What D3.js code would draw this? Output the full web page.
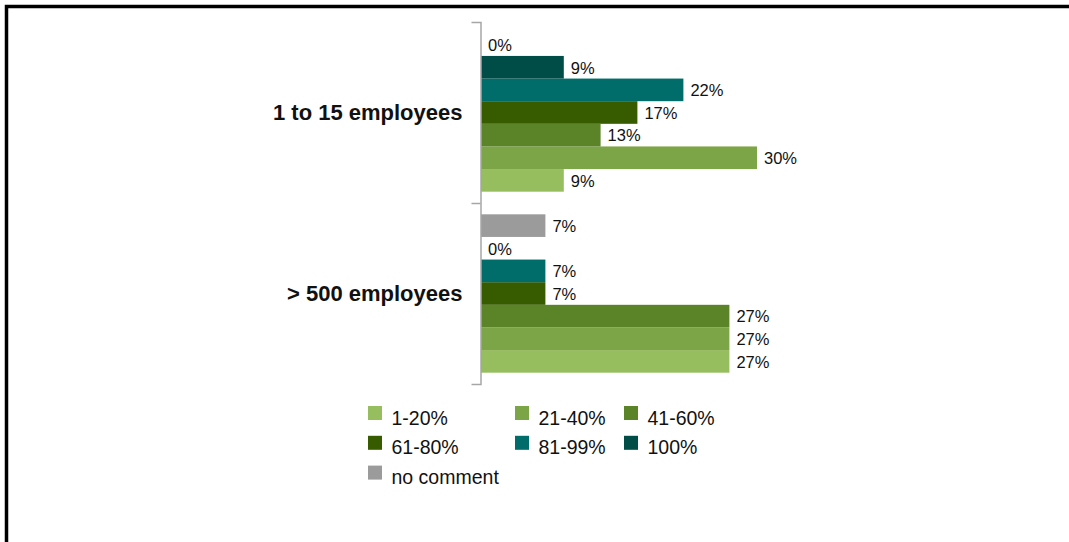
<!DOCTYPE html>
<html>
<head>
<meta charset="utf-8">
<script src="https://cdn.jsdelivr.net/npm/d3@7"></script>
<style>
  html, body { margin: 0; padding: 0; background: #fff; }
  svg { display: block; }
  text { font-family: "Liberation Sans", Arial, sans-serif; fill: #111; }
</style>
</head>
<body>
<svg id="chart" width="1069" height="542"></svg>
<script>
// Company size groups shown on the vertical axis
const categories = ["1 to 15 employees", "> 500 employees"];

// Share ranges (legend order)
const seriesNames = ["1-20%", "21-40%", "41-60%", "61-80%", "81-99%", "100%", "no comment"];
const seriesColors = ["#96be5f", "#7ca548", "#5b8428", "#375c00", "#006d6a", "#004d48", "#9b9b9b"];

// Percent values per series, one entry per category
const values1to20     = [9, 27];
const values21to40    = [30, 27];
const values41to60    = [13, 27];
const values61to80    = [17, 7];
const values81to99    = [22, 7];
const values100       = [9, 0];
const valuesNoComment = [0, 7];

const seriesValues = [values1to20, values21to40, values41to60, values61to80,
                      values81to99, values100, valuesNoComment];

const svg = d3.select("#chart");

// Outer frame
svg.append("rect")
  .attr("x", 6.5).attr("y", 6.5)
  .attr("width", 1200).attr("height", 700)
  .attr("fill", "none")
  .attr("stroke", "#000")
  .attr("stroke-width", 3.5);

// Scales
const x = d3.scaleLinear().domain([0, 30]).range([481, 757]);
const y = d3.scaleBand().domain(categories).range([22, 384]).padding(0);
// Within a group, "no comment" sits on top and "1-20%" at the bottom
const inner = d3.scaleBand()
  .domain(seriesNames.slice().reverse())
  .range([0, y.bandwidth()])
  .paddingInner(0)
  .paddingOuter(0.5);

// Flattened bar records
const bars = [];
categories.forEach((cat, ci) => {
  seriesNames.forEach((name, si) => {
    bars.push({ cat, name, color: seriesColors[si], value: seriesValues[si][ci] });
  });
});

const g = svg.append("g");

g.selectAll("rect.bar")
  .data(bars)
  .join("rect")
  .attr("class", "bar")
  .attr("x", x(0))
  .attr("y", d => y(d.cat) + inner(d.name))
  .attr("width", d => x(d.value) - x(0))
  .attr("height", inner.bandwidth())
  .attr("fill", d => d.color);

g.selectAll("text.val")
  .data(bars)
  .join("text")
  .attr("class", "val")
  .attr("x", d => x(d.value) + 7)
  .attr("y", d => y(d.cat) + inner(d.name) + inner.bandwidth() / 2)
  .attr("dy", "0.38em")
  .style("font-size", "16.5px")
  .text(d => d.value + "%");

// Category axis
const axis = svg.append("g")
  .attr("transform", `translate(${x(0) - 0.5},0)`)
  .call(d3.axisLeft(y).tickSize(0).tickSizeOuter(9).tickPadding(18));
axis.select(".domain").attr("stroke", "#a6a6a6").attr("stroke-width", 1.5);
axis.selectAll(".tick text")
  .style("font-size", "22px")
  .style("font-weight", "bold")
  .style("font-family", "'Liberation Sans', Arial, sans-serif")
  .attr("fill", "#111");

// Boundary ticks between groups
axis.selectAll("line.sep")
  .data(categories.slice(1))
  .join("line")
  .attr("class", "sep")
  .attr("x1", -9).attr("x2", 0)
  .attr("y1", d => y(d) + 0.5).attr("y2", d => y(d) + 0.5)
  .attr("stroke", "#a6a6a6").attr("stroke-width", 1.5);

// Legend: three columns
const legendCols = [368, 515, 624];
const legendRowTop = 406, legendRowStep = 29.8;
const legend = svg.append("g")
  .selectAll("g")
  .data(seriesNames.map((n, i) => ({ name: n, color: seriesColors[i], i })))
  .join("g")
  .attr("transform", d => `translate(${legendCols[d.i % 3]},${legendRowTop + Math.floor(d.i / 3) * legendRowStep})`);

legend.append("rect")
  .attr("width", 14).attr("height", 14)
  .attr("fill", d => d.color);

legend.append("text")
  .attr("x", 23.5).attr("y", 18.5)
  .style("font-size", "19.5px")
  .text(d => d.name);
</script>
</body>
</html>
